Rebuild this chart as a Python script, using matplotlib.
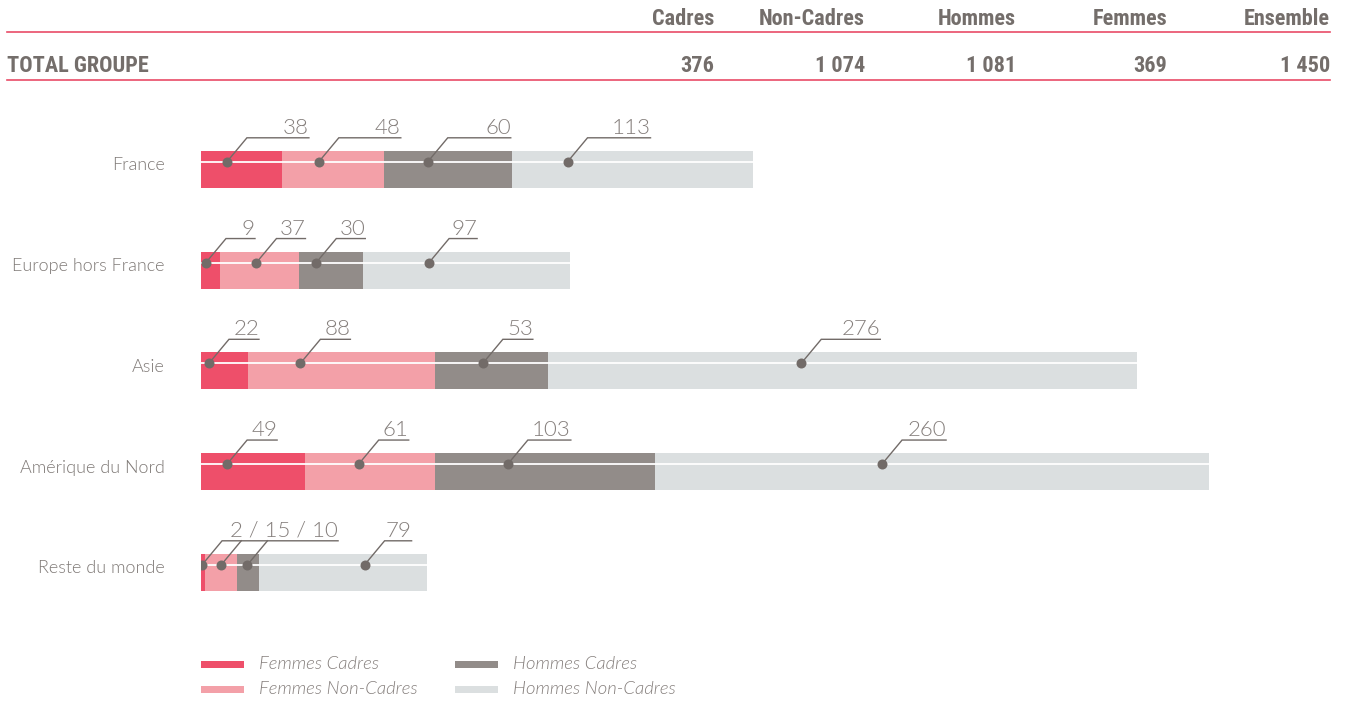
import matplotlib
matplotlib.use("Agg")
import matplotlib.pyplot as plt
from matplotlib.patches import Rectangle
from matplotlib.lines import Line2D

# ---- data -------------------------------------------------------------
regions = ["France", "Europe hors France", "Asie", "Amérique du Nord", "Reste du monde"]
femmes_cadres = [38, 9, 22, 49, 2]
femmes_non_cadres = [48, 37, 88, 61, 15]
hommes_cadres = [60, 30, 53, 103, 10]
hommes_non_cadres = [113, 97, 276, 260, 79]

series_names = ["Femmes Cadres", "Femmes Non-Cadres", "Hommes Cadres", "Hommes Non-Cadres"]
series_colors = ["#ee4f6a", "#f3a0a8", "#928c89", "#dbdfe0"]

header_cols = ["Cadres", "Non-Cadres", "Hommes", "Femmes", "Ensemble"]
total_label = "TOTAL GROUPE"
total_values = ["376", "1 074", "1 081", "369", "1 450"]

# position of each callout dot inside its segment (fraction of the segment)
anchor_frac = [
    [0.32, 0.36, 0.34, 0.23],
    [0.26, 0.46, 0.27, 0.32],
    [0.17, 0.28, 0.42, 0.43],
    [0.25, 0.41, 0.33, 0.41],
    [0.25, 0.50, 0.48, 0.63],
]
# length of the horizontal part of each callout (pixels)
callout_len = [
    [62, 62, 63, 63],
    [29, 29, 29, 28],
    [30, 30, 30, 59],
    [30, 30, 43, 44],
    [116, 0, 0, 27],
]

# ---- figure geometry --------------------------------------------------
W, H = 1349, 702
fig = plt.figure(figsize=(W / 100, H / 100), dpi=100)
fig.patch.set_facecolor("white")

def fx(px):
    return px / W

def fy(py):
    return 1 - py / H

TEXT = "#746e6b"
DARK = "#726b68"
RED = "#e94c67"
LIGHT = ["Lato", "DejaVu Sans"]
BOLD_NARROW = ["Roboto Condensed", "Liberation Sans Narrow", "Roboto", "DejaVu Sans"]

# ---- header table -----------------------------------------------------
col_right = [714, 865, 1016, 1167, 1330]
for name, val, xr in zip(header_cols, total_values, col_right):
    fig.text(fx(xr), fy(19), name, ha="right", va="center", fontsize=16,
             fontweight="bold", family=BOLD_NARROW, color=TEXT)
    fig.text(fx(xr), fy(66), val, ha="right", va="center", fontsize=16,
             fontweight="bold", family=BOLD_NARROW, color=TEXT)
fig.text(fx(7), fy(66), total_label, ha="left", va="center", fontsize=16,
         fontweight="bold", family=BOLD_NARROW, color=TEXT)
for yy in (32, 80):
    fig.add_artist(Line2D([fx(7), fx(1330)], [fy(yy), fy(yy)], color=RED, lw=1.2))

# ---- bars -------------------------------------------------------------
PX_X = 2.131          # pixels per person on the x axis
PX_Y = 100.75         # pixels between two rows
x_max = 500
ax_top, ax_bot = 100, 620
ax = fig.add_axes([fx(201), fy(ax_bot), x_max * PX_X / W, (ax_bot - ax_top) / H])
ax.set_xlim(0, x_max)
y0 = (ax_top - 169.3) / PX_Y
y1 = (ax_bot - 169.3) / PX_Y
ax.set_ylim(y1, y0)
ax.axis("off")

series = [femmes_cadres, femmes_non_cadres, hommes_cadres, hommes_non_cadres]
rows = list(range(len(regions)))
bar_h = 37 / PX_Y
left = [0] * len(regions)
for vals, col in zip(series, series_colors):
    ax.barh(rows, vals, left=left, height=bar_h, color=col, linewidth=0, zorder=2)
    left = [l + v for l, v in zip(left, vals)]
totals = left

line_off = 7.5 / PX_Y
dx_diag = 20 / PX_X
dy_diag = 24 / PX_Y

for i in rows:
    yl = i - line_off
    ax.plot([0, totals[i]], [yl, yl], color="white", lw=1.3, zorder=3,
            solid_capstyle="butt")
    start = 0
    anchors = []
    for k, vals in enumerate(series):
        v = vals[i]
        anchors.append(start + anchor_frac[i][k] * v)
        start += v
    for k, xd in enumerate(anchors):
        ax.plot([xd], [yl], "o", ms=7.2, color=DARK, mec="none", zorder=5)
        xt = xd + dx_diag
        yt = yl - dy_diag
        if i == 4 and k in (1, 2):
            ax.plot([xd, xt], [yl, yt], color=DARK, lw=1.0, zorder=4)
            continue
        xe = xt + callout_len[i][k] / PX_X
        ax.plot([xd, xt, xe], [yl, yt, yt], color=DARK, lw=1.0, zorder=4,
                solid_joinstyle="miter")
        if i == 4 and k == 0:
            label = " / ".join(str(s[i]) for s in series[:3])
        else:
            label = str(series[k][i])
        ax.text(xe, yt - 4 / PX_Y, label, ha="right", va="baseline", fontsize=16,
                fontweight=300, family=LIGHT, color="#857f7c")
    ax.text(-36 / PX_X, i - 4 / PX_Y, regions[i], ha="right", va="center",
            fontsize=13, fontweight=300, family=LIGHT, color="#7f7976")

# ---- legend -----------------------------------------------------------
legend_pos = [(201, 664), (201, 689), (455, 664), (455, 689)]
for (lx, ly), name, col in zip(legend_pos, series_names, series_colors):
    fig.add_artist(Rectangle((fx(lx), fy(ly + 4)), 43 / W, 7 / H,
                             facecolor=col, edgecolor="none"))
    fig.text(fx(lx + 58), fy(ly), name, ha="left", va="center", fontsize=13.3,
             fontweight=300, style="italic", family=LIGHT, color="#857f7c")

fig.savefig("out.png", dpi=100, facecolor="white")
